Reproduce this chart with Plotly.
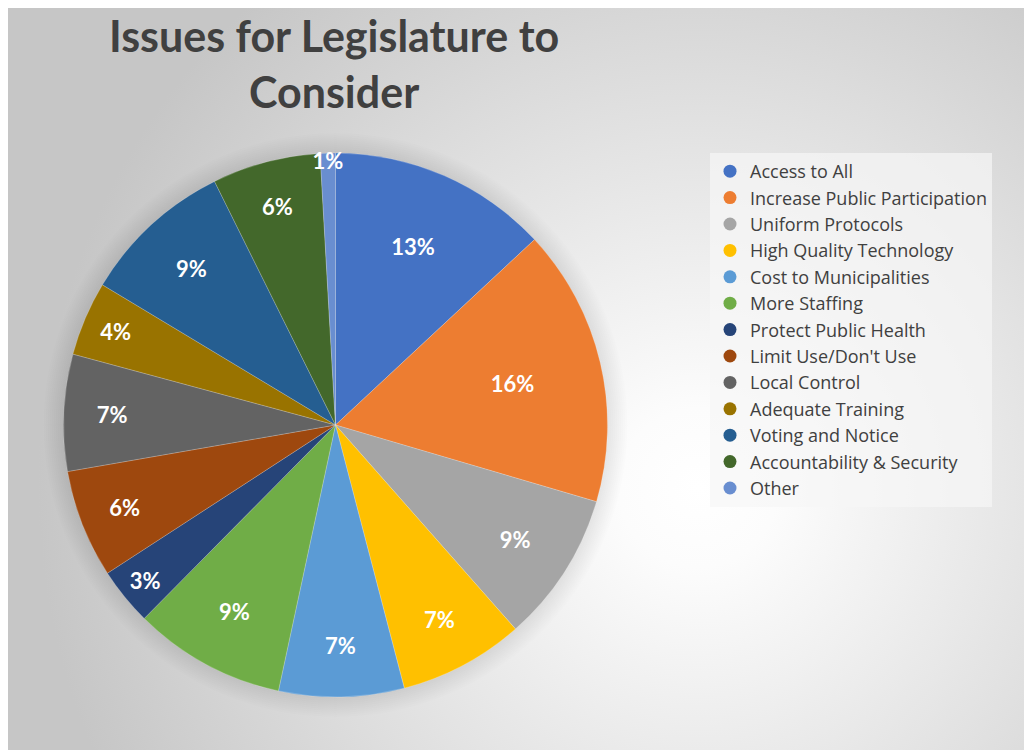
import base64
import plotly.graph_objects as go

categories = ["Access to All", "Increase Public Participation", "Uniform Protocols",
              "High Quality Technology", "Cost to Municipalities", "More Staffing",
              "Protect Public Health", "Limit Use/Don't Use", "Local Control",
              "Adequate Training", "Voting and Notice", "Accountability & Security", "Other"]
values = [13.0, 16.4, 8.9, 7.4, 7.4, 9.0, 3.4, 6.4, 6.9, 4.4, 9.0, 6.4, 0.9]
colors = ["#4472C4", "#ED7D31", "#A5A5A5", "#FFC000", "#5B9BD5", "#70AD47",
          "#264478", "#9E480E", "#636363", "#997300", "#255E91", "#43682B", "#698ED0"]
title_text = "Issues for Legislature to<br>Consider"

W, H = 1032, 750

svg = f'''<svg xmlns="http://www.w3.org/2000/svg" width="{W}" height="{H}" viewBox="0 0 {W} {H}">
<defs><radialGradient id="g" gradientUnits="userSpaceOnUse" cx="690" cy="480" r="660">
<stop offset="0" stop-color="#ffffff"/><stop offset="0.12" stop-color="#fcfcfc"/>
<stop offset="1" stop-color="#c6c6c6"/></radialGradient></defs>
<rect x="0" y="0" width="{W}" height="{H}" fill="url(#g)"/>
</svg>'''
bg_uri = "data:image/svg+xml;base64," + base64.b64encode(svg.encode()).decode()

fig = go.Figure()
fig.add_trace(go.Pie(
    labels=categories, values=values, sort=False, direction="clockwise", rotation=0,
    marker=dict(colors=colors, line=dict(width=0.7, color="rgba(255,255,255,0.3)")),
    texttemplate="%{percent:.0%}", textposition="inside", insidetextorientation="horizontal",
    textfont=dict(family="Lato", size=22, color="white", weight="bold"),
    hoverinfo="label+percent", showlegend=False,
    domain=dict(x=[55.5 / W, 599.5 / W], y=[1 - 689 / H, 1 - 145 / H]),
))
for name, col in zip(categories, colors):
    fig.add_trace(go.Scatter(x=[None], y=[None], mode="markers", name=name,
                             marker=dict(symbol="circle", size=13, color=col)))

cx, cy, r = 327.5, 417, 272
shapes = []
for k in range(20, 0, -2):
    shapes.append(dict(type="circle", xref="paper", yref="paper", layer="below",
                       x0=(cx - r - k) / W, x1=(cx + r + k) / W,
                       y0=1 - (cy + r + k) / H, y1=1 - (cy - r - k) / H,
                       fillcolor="rgba(0,0,0,0.009)", line=dict(width=0)))

fig.update_layout(
    width=W, height=H, margin=dict(l=0, r=0, t=0, b=0),
    paper_bgcolor="white", plot_bgcolor="rgba(0,0,0,0)",
    images=[dict(source=bg_uri, xref="paper", yref="paper", x=0, y=1, sizex=1, sizey=1,
                 sizing="stretch", layer="below", xanchor="left", yanchor="top")],
    shapes=shapes,
    xaxis=dict(visible=False), yaxis=dict(visible=False),
    uniformtext=dict(minsize=22, mode="show"),
    annotations=[dict(text=title_text, x=326 / W, y=1 - 56 / H, xref="paper", yref="paper",
                      xanchor="center", yanchor="middle", showarrow=False,
                      font=dict(family="Lato", size=43, color="#404040", weight="bold"))],
    legend=dict(x=702 / W, y=1 - 145 / H, xanchor="left", yanchor="top",
                bgcolor="rgba(246,246,246,0.7)",
                font=dict(family="Open Sans", size=18, color="#404040"),
                itemwidth=30, tracegroupgap=0),
)
fig.write_html("out.html")
